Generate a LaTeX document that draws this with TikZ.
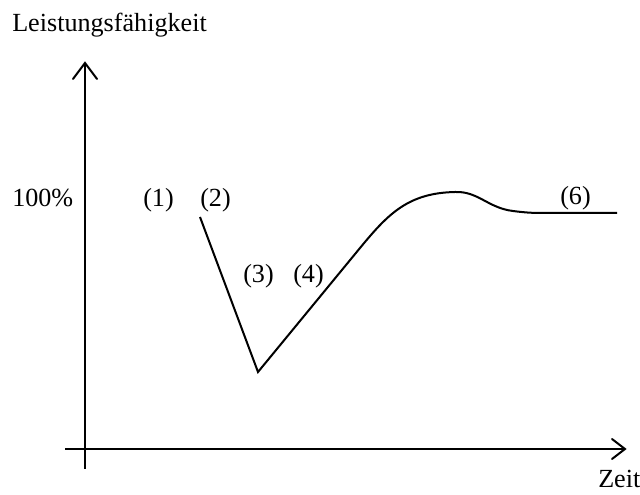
\documentclass[tikz,border=0pt]{standalone}
\usepackage{fontspec}
\setmainfont{Liberation Serif}
\begin{document}
\begin{tikzpicture}[x=0.75pt,y=-0.75pt,
  lbl/.style={anchor=base west,inner sep=0pt,font=\fontsize{19.6}{23}\selectfont},
  axis/.style={line width=1.6pt},
  curve/.style={line width=1.5pt,line join=miter},
  openarrow/.style={line width=1.5pt,line cap=round,line join=miter}]
\useasboundingbox (0,0) rectangle (640,495);
% axes
\coordinate (yb) at (85,469);
\coordinate (yt) at (85,63);
\coordinate (xl) at (65,449);
\coordinate (xr) at (625,449);
\draw[axis] (yb) -- (yt);
\draw[axis] (xl) -- (xr);
\draw[openarrow] (73,79) -- (yt) -- (97,79);
\draw[openarrow] (612,439) -- (xr) -- (612,459);
% labels
\node[lbl] (ylab) at (12,32) {Leistungsfähigkeit};
\node[lbl] (xlab) at (598,488) {Zeit};
\node[lbl] (p100) at (12,207) {100\%};
\node[lbl] (l1) at (143,207) {(1)};
\node[lbl] (l2) at (200,207) {(2)};
\node[lbl] (l3) at (243,283) {(3)};
\node[lbl] (l4) at (293,283) {(4)};
\node[lbl] (l6) at (560,205) {(6)};
% curve
\coordinate (c0) at (200,217);
\coordinate (c1) at (258,372);
\coordinate (c2) at (360,248);
\coordinate (c3) at (455,192);
\coordinate (c3b) at (513,211);
\coordinate (c4) at (545,213);
\coordinate (c5) at (617,213);
\draw[curve] (c0) -- (c1) -- (c2)
  .. controls (388,214) and (408,193) .. (c3)
  .. controls (478,191) and (488,208) .. (c3b)
  .. controls (528,213) and (536,213) .. (c4) -- (c5);
\end{tikzpicture}
\end{document}
